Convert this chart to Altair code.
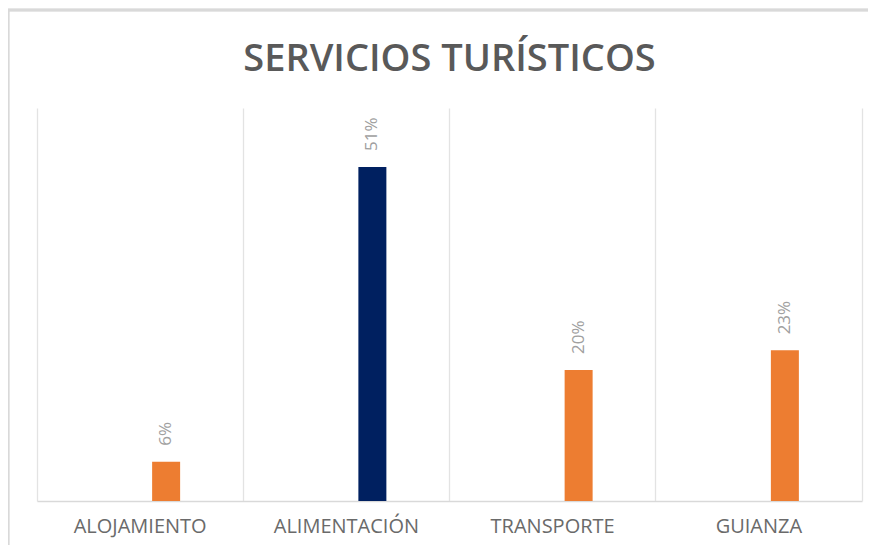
import altair as alt
import pandas as pd

categories = ["ALOJAMIENTO", "ALIMENTACIÓN", "TRANSPORTE", "GUIANZA"]
values = [0.06, 0.51, 0.20, 0.23]
bar_colors = ["#ED7D31", "#002060", "#ED7D31", "#ED7D31"]

df = pd.DataFrame({"cat": categories, "v": values, "c": bar_colors})

W, H = 825, 393

base = alt.Chart(df)

xenc = alt.X(
    "cat:N",
    sort=categories,
    scale=alt.Scale(paddingInner=0, paddingOuter=0),
    axis=alt.Axis(
        title=None, ticks=False, labelAngle=0, labelPadding=15,
        labelFont="Open Sans", labelFontSize=20, labelColor="#6A6A6A",
        domainColor="#D9D9D9", domainWidth=1.5,
        grid=True, gridColor="#E3E3E3", gridWidth=1.3, bandPosition=0,
    ),
)
yenc = alt.Y(
    "v:Q",
    scale=alt.Scale(domain=[0, 0.6], nice=False),
    axis=alt.Axis(
        orient="right", title=None, labels=False, ticks=False, grid=False,
        domainColor="#E3E3E3", domainWidth=1.3,
    ),
)

bars = base.mark_bar(width=28, xOffset=26).encode(
    x=xenc, y=yenc, color=alt.Color("c:N", scale=None)
)

labels = base.mark_text(
    angle=270, align="left", baseline="middle", xOffset=26, yOffset=-16,
    font="Open Sans", fontSize=17, color="#A0A0A0",
).encode(x=alt.X("cat:N", sort=categories), y="v:Q", text=alt.Text("v:Q", format=".0%"))

border = base.mark_rect(fill=None, stroke="#D9D9D9", strokeWidth=2.5).encode(
    x=alt.value(-29), x2=alt.value(W + 40), y=alt.value(-98), y2=alt.value(H + 60)
)

chart = (
    alt.layer(border, bars, labels)
    .properties(
        width=W, height=H,
        title=alt.TitleParams(
            "SERVICIOS  TURÍSTICOS", font="Open Sans", fontSize=38, fontWeight=600,
            color="#595959", anchor="middle", frame="group", baseline="alphabetic", offset=-100,
        ),
        autosize=alt.AutoSizeParams(type="none"),
        padding={"left": 29, "top": 100, "right": 6, "bottom": 44},
    )
    .configure_view(stroke=None)
)

chart.save("out.html", embed_options={"renderer": "svg", "actions": False})
